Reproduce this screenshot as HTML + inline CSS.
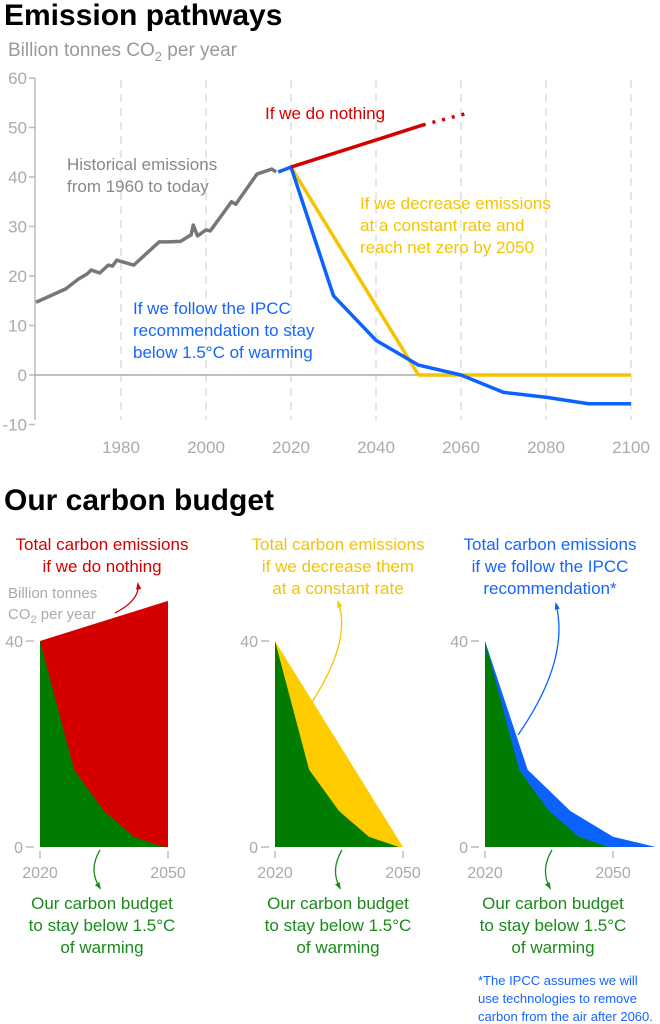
<!DOCTYPE html>
<html><head><meta charset="utf-8"><style>
body{margin:0;background:#fff}
svg{display:block;font-family:"Liberation Sans",sans-serif}
</style></head><body>
<svg id="s" width="660" height="1024" viewBox="0 0 660 1024">
<text x="4" y="25" font-size="30" font-weight="bold" fill="#000">Emission pathways</text>
<text x="8" y="56" font-size="19" fill="#999">Billion tonnes CO<tspan font-size="13" dy="5">2</tspan><tspan dy="-5"> per year</tspan></text>
<g id="topg"></g>
<g font-size="17">
<text x="265" y="119" fill="#d40000">If we do nothing</text>
<text x="67" y="170" fill="#888">Historical emissions<tspan x="67" y="192">from 1960 to today</tspan></text>
<text x="360" y="209" fill="#f5c400">If we decrease emissions<tspan x="360" y="231">at a constant rate and</tspan><tspan x="360" y="253">reach net zero by 2050</tspan></text>
<text x="133" y="314" fill="#1565ff">If we follow the IPCC<tspan x="133" y="336">recommendation to stay</tspan><tspan x="133" y="358">below 1.5°C of warming</tspan></text>
</g>
<text x="4" y="510" font-size="30" font-weight="bold" fill="#000">Our carbon budget</text>
<g id="bot"></g>
<g font-size="17" text-anchor="middle">
<text x="102" y="550" fill="#d40000">Total carbon emissions<tspan x="102" y="572">if we do nothing</tspan></text>
<text x="338" y="550" fill="#f5c400">Total carbon emissions<tspan x="338" y="572">if we decrease them</tspan><tspan x="338" y="594">at a constant rate</tspan></text>
<text x="550" y="550" fill="#1565ff">Total carbon emissions<tspan x="550" y="572">if we follow the IPCC</tspan><tspan x="550" y="594">recommendation*</tspan></text>
<text x="102" y="909" fill="#1a8a1a">Our carbon budget<tspan x="102" y="931">to stay below 1.5°C</tspan><tspan x="102" y="953">of warming</tspan></text>
<text x="338" y="909" fill="#1a8a1a">Our carbon budget<tspan x="338" y="931">to stay below 1.5°C</tspan><tspan x="338" y="953">of warming</tspan></text>
<text x="553" y="909" fill="#1a8a1a">Our carbon budget<tspan x="553" y="931">to stay below 1.5°C</tspan><tspan x="553" y="953">of warming</tspan></text>
</g>
<text x="8" y="598" font-size="15" fill="#aaa">Billion tonnes<tspan x="8" y="619">CO</tspan><tspan font-size="11" dy="4">2</tspan><tspan dy="-4"> per year</tspan></text>
<text x="478" y="985" font-size="13" fill="#1565ff">*The IPCC assumes we will<tspan x="478" y="1003">use technologies to remove</tspan><tspan x="478" y="1021">carbon from the air after 2060.</tspan></text>
</svg>
<script>
const histYears=[1960,1967,1970,1972,1973,1975,1977,1978,1979,1983,1989,1991,1994,1996.5,1997,1998,2000,2001,2006,2007,2012,2015.5,2016.5];
const histVals=[14.7,17.4,19.4,20.4,21.2,20.6,22.2,22,23.2,22.2,26.9,26.9,27,28.3,30.3,28.1,29.3,29.1,35,34.5,40.6,41.6,41];
const redYears=[2020,2051];const redVals=[42,50.5];
const redDotYears=[2051,2062];const redDotVals=[50.5,53];
const yelYears=[2020,2050,2100];const yelVals=[42,0,0];
const bluYears=[2017,2020,2030,2040,2050,2060,2070,2080,2090,2100];
const bluVals=[41,42,16,7,2,0,-3.5,-4.5,-5.8,-5.8];
const yTicks=[60,50,40,30,20,10,0,-10];
const xTicks=[1980,2000,2020,2040,2060,2080,2100];
const greenYears=[2020,2028,2035,2042,2049];const greenVals=[40,15,7,2,0];
const p1Years=[2020,2050];const p1Vals=[40,47.8];
const p2Years=[2020,2050];const p2Vals=[40,0];
const p3Years=[2020,2030,2040,2050,2060];const p3Vals=[40,15,7,2,0];
const panelTicks=[0,40];const panelYears=[2020,2050];

const NS="http://www.w3.org/2000/svg";
function mk(p,t,a){const e=document.createElementNS(NS,t);for(const k in a)e.setAttribute(k,a[k]);p.appendChild(e);return e;}
const X=y=>36+(y-1960)*4.25, Y=v=>375-v*4.95;
const topG=document.getElementById('topg');
xTicks.forEach(t=>{const l=mk(topG,'line',{x1:X(t),x2:X(t),y1:80,y2:420,stroke:'#ddd','stroke-width':1.5,'stroke-dasharray':'8,6'});


const tx=mk(topG,'text',{x:X(t),y:453,'text-anchor':'middle','font-size':17,fill:'#aaa'});tx.textContent=t;

});
const ax=mk(topG,'line',{x1:35,x2:35,y1:78,y2:420,stroke:'#bbb','stroke-width':1.5});


yTicks.forEach(t=>{mk(topG,'line',{x1:29,x2:35,y1:Y(t),y2:Y(t),stroke:'#bbb','stroke-width':1.5});
const tx=mk(topG,'text',{x:27,y:Y(t)+6,'text-anchor':'end','font-size':17,fill:'#aaa'});tx.textContent=t;

});
const z=mk(topG,'line',{x1:35,x2:X(2100),y1:Y(0),y2:Y(0),stroke:'#aaa','stroke-width':1.5});


function line(ys,vs,col,name,extra){const d=ys.map((y,i)=>(i?'L':'M')+X(y)+','+Y(vs[i])).join('');
const p=mk(topG,'path',Object.assign({d:d,fill:'none',stroke:col,'stroke-width':3.5,'stroke-linejoin':'round'},extra||{}));

}
line(yelYears,yelVals,'#f5c400','line-constant-rate');
line(bluYears,bluVals,'#0b62ff','line-ipcc');
line(histYears,histVals,'#777','line-historical');
line(redYears,redVals,'#d40000','line-do-nothing');
line(redDotYears,redDotVals,'#d40000','line-do-nothing-dotted',{'stroke-dasharray':'3,7'});

const bot=document.getElementById('bot');
const panels=[{x0:40,col:'#d40000',ys:p1Years,vs:p1Vals,name:'panel-do-nothing'},{x0:275,col:'#ffcc00',ys:p2Years,vs:p2Vals,name:'panel-constant-rate'},{x0:485,col:'#0b62ff',ys:p3Years,vs:p3Vals,name:'panel-ipcc'}];
const PY=v=>847-v*5.15;
panels.forEach(P=>{const PX=y=>P.x0+(y-2020)*128/30;
const g=mk(bot,'g',{});


let d='M'+PX(P.ys[0])+','+PY(0)+P.ys.map((y,i)=>'L'+PX(y)+','+PY(P.vs[i])).join('')+'L'+PX(P.ys[P.ys.length-1])+','+PY(0)+'Z';
const a=mk(g,'path',{d:d,fill:P.col});


let d2='M'+PX(2020)+','+PY(0)+greenYears.map((y,i)=>'L'+PX(y)+','+PY(greenVals[i])).join('')+'Z';
const b=mk(g,'path',{d:d2,fill:'#007d00'});


panelTicks.forEach(t=>{mk(g,'line',{x1:P.x0-14,x2:P.x0-6,y1:PY(t),y2:PY(t),stroke:'#bbb','stroke-width':1.5});
const tx=mk(g,'text',{x:P.x0-17,y:PY(t)+6,'text-anchor':'end','font-size':16,fill:'#aaa'});tx.textContent=t;

});
panelYears.forEach(t=>{mk(g,'line',{x1:PX(t),x2:PX(t),y1:851,y2:858,stroke:'#bbb','stroke-width':1.5});
const tx=mk(g,'text',{x:PX(t),y:878,'text-anchor':'middle','font-size':16,fill:'#aaa'});tx.textContent=t;

});
});
const arrows=[['M115,613 Q140,600 138,584','#d40000'],['M312,702 Q352,640 338,602','#f5c400'],['M518,735 Q570,660 556,604','#0b62ff'],
['M100,850 Q88,870 100,888','#1a8a1a'],['M342,850 Q330,870 340,888','#1a8a1a'],['M552,850 Q540,870 550,888','#1a8a1a']];
arrows.forEach(([d,c])=>{const p=mk(bot,'path',{d:d,fill:'none',stroke:c,'stroke-width':1.3});


const m=d.match(/[-\d.]+/g).map(Number);const ex=m[4],ey=m[5],cx=m[2],cy=m[3];
const ang=Math.atan2(ey-cy,ex-cx),s=6;
mk(bot,'path',{d:`M${ex+Math.cos(ang)*2},${ey+Math.sin(ang)*2}L${ex-s*Math.cos(ang-0.45)},${ey-s*Math.sin(ang-0.45)}L${ex-s*Math.cos(ang+0.45)},${ey-s*Math.sin(ang+0.45)}Z`,fill:c});});
</script>
</body></html>
